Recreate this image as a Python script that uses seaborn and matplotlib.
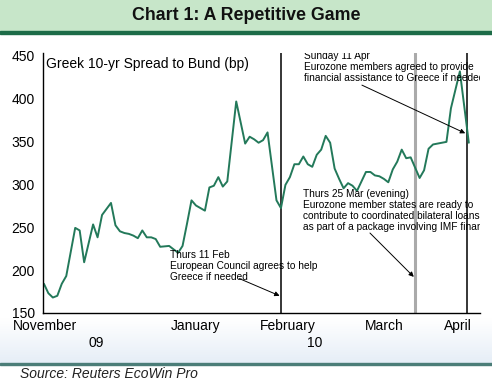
import numpy as np
import pandas as pd
import matplotlib
matplotlib.use("Agg")
import matplotlib.pyplot as plt
from matplotlib.patches import Rectangle
import seaborn as sns

# Greek 10-yr spread to Bund (bp), business days
dates = ["2009-11-30", "2009-12-01", "2009-12-02", "2009-12-03", "2009-12-04",
         "2009-12-07", "2009-12-09", "2009-12-10", "2009-12-11", "2009-12-15",
         "2009-12-16", "2009-12-17", "2009-12-21", "2009-12-22", "2009-12-23",
         "2009-12-24", "2009-12-25", "2009-12-28", "2009-12-29", "2009-12-30",
         "2009-12-31", "2010-01-01", "2010-01-04", "2010-01-05", "2010-01-07",
         "2010-01-08", "2010-01-11", "2010-01-12", "2010-01-13", "2010-01-14",
         "2010-01-15", "2010-01-19", "2010-01-20", "2010-01-21", "2010-01-22",
         "2010-01-25", "2010-01-26", "2010-01-28", "2010-02-01", "2010-02-02",
         "2010-02-03", "2010-02-04", "2010-02-05", "2010-02-08", "2010-02-10",
         "2010-02-11", "2010-02-12", "2010-02-15", "2010-02-16", "2010-02-17",
         "2010-02-18", "2010-02-19", "2010-02-22", "2010-02-23", "2010-02-24",
         "2010-02-25", "2010-02-26", "2010-03-01", "2010-03-02", "2010-03-03",
         "2010-03-04", "2010-03-05", "2010-03-08", "2010-03-09", "2010-03-10",
         "2010-03-11", "2010-03-12", "2010-03-15", "2010-03-16", "2010-03-17",
         "2010-03-18", "2010-03-19", "2010-03-22", "2010-03-23", "2010-03-24",
         "2010-03-26", "2010-03-29", "2010-03-30", "2010-03-31", "2010-04-01",
         "2010-04-05", "2010-04-06", "2010-04-08", "2010-04-12"]
spread = [184, 173, 168, 170, 184,
          193, 249, 246, 209, 253,
          238, 264, 278, 252, 245,
          243, 242, 240, 237, 246,
          238, 238, 236, 227, 228,
          224, 220, 228, 254, 281,
          275, 269, 296, 298, 308,
          297, 303, 396, 347, 355,
          352, 348, 351, 360, 281,
          272, 299, 308, 323, 323,
          332, 323, 320, 334, 340,
          356, 348, 318, 306, 295,
          301, 298, 292, 303, 314,
          314, 310, 309, 306, 302,
          317, 326, 340, 330, 331,
          307, 316, 341, 346, 347,
          349, 388, 431, 348]

start = "2009-11-30"
month_starts = ["2009-12-01", "2010-01-01", "2010-02-01", "2010-03-01", "2010-04-01"]
month_names = ["November", "January", "February", "March", "April"]
year_names = ["09", "10"]
year_starts = ["2010-01-01"]

events = ["2010-02-11", "2010-03-25", "2010-04-11"]
event_colors = ["black", "#aaaaaa", "black"]
event_widths = [1.1, 2.2, 1.1]
event_texts = [
    "Thurs 11 Feb\nEuropean Council agrees to help\nGreece if needed",
    "Thurs 25 Mar (evening)\nEurozone member states are ready to\n"
    "contribute to coordinated bilateral loans\nas part of a package involving IMF financing",
    "Sunday 11 Apr\nEurozone members agreed to provide\nfinancial assistance to Greece if needed",
]


def bpos(d):
    # business-day position; weekend dates fall on the boundary between days
    n = np.busday_count(start, d)
    return n + 0.5 if np.is_busday(d) else float(n)


df = pd.DataFrame({"x": [np.busday_count(start, d) + 0.5 for d in dates], "bp": spread})

sns.set_style("white")
plt.rcParams["font.family"] = ["Liberation Sans", "DejaVu Sans"]

W, H = 492, 382
fig = plt.figure(figsize=(W / 100, H / 100), dpi=100)

# title banner
fig.patches.append(Rectangle((0, 1 - 31 / H), 1, 31 / H, transform=fig.transFigure,
                             color="#c7e6c9", zorder=0))
fig.patches.append(Rectangle((0, 1 - 34 / H), 1, 3 / H, transform=fig.transFigure,
                             color="#1d6c48", zorder=0))
fig.text(0.5, 1 - 15.5 / H, "Chart 1: A Repetitive Game", ha="center", va="center",
         fontsize=12.8, fontweight="bold", color="#111111")

# faint gradient under the axis labels
gax = fig.add_axes([0, (H - 363) / H, 1, 45 / H])
grad = np.linspace(0, 1, 50).reshape(-1, 1)
gax.imshow(grad, aspect="auto", cmap=matplotlib.colors.LinearSegmentedColormap.from_list(
    "g", ["#ffffff", "#e6eef7"]), extent=[0, 1, 0, 1], origin="upper")
gax.axis("off")
gax.set_zorder(0)
fig.patches.append(Rectangle((0, (H - 364.5) / H), 1, 1.2 / H, transform=fig.transFigure,
                             color="#4b7d78", zorder=1))
fig.text(20 / W, 1 - 374 / H, "Source: Reuters EcoWin Pro", ha="left", va="center",
         fontsize=10, style="italic", color="#222222")

ax = fig.add_axes([43 / W, (H - 313) / H, (480 - 43) / W, (313 - 53.3) / H])
ax.set_zorder(2)
ax.patch.set_alpha(0)

sns.lineplot(data=df, x="x", y="bp", ax=ax, color="#23795a", linewidth=1.4)

x0, x1 = 0.3, 98.0
ax.set_xlim(x0, x1)
ax.set_ylim(150, 452)
ax.set_yticks(range(150, 451, 50))
ax.set_xticks([np.busday_count(start, d) for d in month_starts])
ax.set_xticklabels([])
ax.set_xlabel("")
ax.set_ylabel("")
for s in ["top", "right"]:
    ax.spines[s].set_visible(False)
for s in ["left", "bottom"]:
    ax.spines[s].set_color("black")
    ax.spines[s].set_linewidth(1.0)
ax.tick_params(axis="y", direction="out", length=4, width=1, labelsize=10, pad=2,
               colors="black")
ax.tick_params(axis="x", direction="out", length=3, width=1, colors="black")

# month labels centred on the visible part of each month
edges = [x0] + [np.busday_count(start, d) for d in month_starts] + [x1]
spans = [(edges[0], edges[1])] + [(edges[i], edges[i + 1]) for i in range(2, len(edges) - 1)]
for (a, b), name in zip(spans, month_names):
    ax.text((a + b) / 2, -0.05, name, transform=ax.get_xaxis_transform(), ha="center",
            va="center", fontsize=10, color="black")
ybound = [x0] + [np.busday_count(start, d) for d in year_starts] + [x1]
for i, name in enumerate(year_names):
    ax.text((ybound[i] + ybound[i + 1]) / 2, -0.115, name, transform=ax.get_xaxis_transform(),
            ha="center", va="center", fontsize=10, color="black")

ax.text(1.0, 439.5, "Greek 10-yr Spread to Bund (bp)", ha="left", va="center",
        fontsize=10, color="black")

# event lines and notes
for d, c, lw in zip(events, event_colors, event_widths):
    ax.axvline(bpos(d), color=c, linewidth=lw, zorder=1)

text_xy = [(28.7, 223), (58.5, 294), (58.7, 454.5)]
arrow_from = [(44.2, 190), (73.4, 243), (71.6, 415)]
arrow_to_y = [170, 192, 359]
for d, txt, (tx, ty), (ax0, ay0), ay1 in zip(events, event_texts, text_xy, arrow_from, arrow_to_y):
    ax.text(tx, ty, txt, ha="left", va="top", fontsize=7.3, linespacing=1.1,
            color="black", clip_on=True)
    ax.annotate("", xy=(bpos(d) - 0.3, ay1), xytext=(ax0, ay0),
                arrowprops=dict(arrowstyle="-|>", color="black", lw=0.7,
                                mutation_scale=7, shrinkA=0, shrinkB=0))

fig.savefig("out.png", dpi=100)
